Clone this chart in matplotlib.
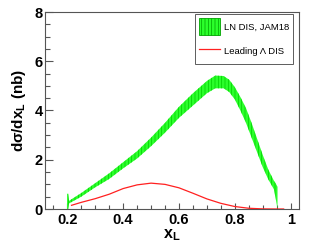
import matplotlib
matplotlib.use("Agg")
import matplotlib.pyplot as plt
from matplotlib.patches import Patch
from matplotlib.lines import Line2D
from matplotlib.ticker import MultipleLocator

plt.rcParams['font.family'] = ['Liberation Sans', 'DejaVu Sans']
plt.rcParams['mathtext.fontset'] = 'custom'
plt.rcParams['mathtext.rm'] = 'Liberation Sans:bold'
plt.rcParams['mathtext.bf'] = 'Liberation Sans:bold'
plt.rcParams['mathtext.it'] = 'Liberation Sans:bold'
plt.rcParams['hatch.linewidth'] = 0.5

# Green band (LN DIS, JAM18): x, lower edge, upper edge
band_x = [0.199, 0.203, 0.206, 0.21, 0.25, 0.30, 0.35, 0.40, 0.45, 0.50, 0.55,
          0.60, 0.65, 0.70, 0.73, 0.76, 0.78, 0.80, 0.82, 0.84, 0.86, 0.88,
          0.90, 0.92, 0.94, 0.946, 0.953]
band_lo = [0.0, 0.0, 0.22, 0.25, 0.50, 0.88, 1.22, 1.65, 2.05, 2.55, 3.10,
           3.70, 4.20, 4.70, 4.90, 4.90, 4.75, 4.45, 4.00, 3.50, 2.90, 2.30,
           1.70, 1.20, 0.80, 0.45, 0.0]
band_hi = [0.62, 0.62, 0.33, 0.36, 0.65, 1.05, 1.45, 1.90, 2.35, 2.90, 3.50,
           4.15, 4.70, 5.20, 5.42, 5.40, 5.25, 4.95, 4.55, 4.10, 3.50, 2.85,
           2.20, 1.60, 1.15, 1.05, 0.90]

# Red curve (Leading Lambda DIS)
red_x = [0.215, 0.25, 0.30, 0.35, 0.40, 0.45, 0.50, 0.55, 0.60, 0.65, 0.70,
         0.75, 0.80, 0.85, 0.90, 0.95, 0.975]
red_y = [0.15, 0.27, 0.42, 0.60, 0.83, 0.98, 1.05, 1.00, 0.86, 0.64, 0.41,
         0.23, 0.10, 0.03, 0.005, 0.0, 0.0]

xticks = [0.2, 0.4, 0.6, 0.8, 1.0]
xtick_labels = ['0.2', '0.4', '0.6', '0.8', '1']
yticks = [0, 2, 4, 6, 8]

band_label = 'LN DIS, JAM18'
red_label = 'Leading \u039b DIS'

fig = plt.figure(figsize=(3.15, 2.47), dpi=100)
ax = fig.add_axes([45/315, 1-209/247, 254/315, 197/247])

green_face = '#2bff2b'
green_hatch = '#00cc00'
ax.fill_between(band_x, band_lo, band_hi, facecolor=green_face,
                edgecolor=green_hatch, hatch='|||||', linewidth=0, zorder=2)
ax.plot(red_x, red_y, color='#ff2020', lw=0.9, zorder=3)

ax.set_xlim(0.12, 1.03)
ax.set_ylim(0, 8)
ax.set_xticks(xticks)
ax.set_xticklabels(xtick_labels)
ax.set_yticks(yticks)
ax.xaxis.set_minor_locator(MultipleLocator(0.05))
ax.yaxis.set_minor_locator(MultipleLocator(0.5))

for s in ax.spines.values():
    s.set_color('#555555')
    s.set_linewidth(0.8)
ax.tick_params(axis='both', which='both', direction='in', colors='#555555',
               labelcolor='black', top=False, right=False, width=0.8)
ax.tick_params(axis='y', which='major', length=5.8, pad=1.5, labelsize=10.5)
ax.tick_params(axis='y', which='minor', length=3.6)
ax.tick_params(axis='x', which='major', length=4.5, pad=3, labelsize=10.5)
ax.tick_params(axis='x', which='minor', length=2.8)
for lab in ax.get_xticklabels() + ax.get_yticklabels():
    lab.set_fontweight('bold')

ax.set_ylabel('d\u03c3/dx$_\\mathregular{L}$ (nb)', fontsize=11,
              fontweight='bold', labelpad=5)
ax.set_xlabel('x$_\\mathregular{L}$', fontsize=11.5, fontweight='bold', labelpad=0)

handles = [Patch(facecolor=green_face, edgecolor='#00a000', hatch='|||||',
                 linewidth=0.6),
           Line2D([], [], color='#ff2020', lw=0.9)]
leg = ax.legend(handles, [band_label, red_label], loc='upper left',
                bbox_to_anchor=(0.59, 0.99), fontsize=6.8, frameon=True,
                fancybox=False, borderpad=0.45, labelspacing=0.9,
                handlelength=2.2, handleheight=2.3, handletextpad=0.4,
                borderaxespad=0)
leg.get_frame().set_edgecolor('#333333')
leg.get_frame().set_linewidth(0.7)

fig.savefig('out.png', dpi=100)
